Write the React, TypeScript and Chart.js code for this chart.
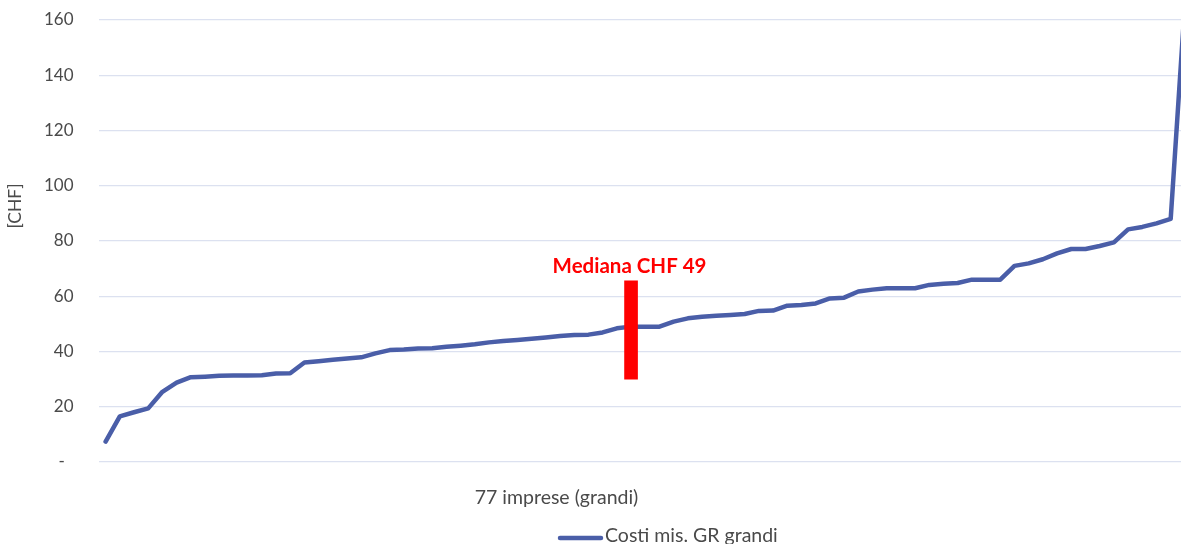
import React, { useEffect, useRef } from 'react';
import { Chart, registerables } from 'chart.js';

Chart.register(...registerables);

// ---- data ----
const categories: string[] = Array.from({ length: 77 }, (_, i) => String(i + 1));
const costs: number[] = [
  7.4, 16.5, 18.0, 19.4, 25.4, 28.7, 30.7, 30.9, 31.2, 31.3,
  31.3, 31.4, 32.0, 32.1, 36.0, 36.5, 37.0, 37.5, 37.9, 39.3,
  40.5, 40.7, 41.1, 41.2, 41.7, 42.1, 42.6, 43.3, 43.8, 44.2,
  44.6, 45.1, 45.6, 46.0, 46.1, 46.9, 48.4, 49.0, 49.0, 49.0,
  50.8, 52.0, 52.6, 52.9, 53.2, 53.6, 54.7, 54.8, 56.6, 56.8,
  57.4, 59.2, 59.5, 61.7, 62.4, 62.9, 62.9, 62.9, 64.1, 64.5,
  64.8, 66.0, 66.0, 66.0, 71.0, 71.9, 73.4, 75.5, 77.1, 77.1,
  78.2, 79.5, 84.2, 85.1, 86.4, 88.0, 166.0,
];
const medianIndex = 37;
const medianRange: [number, number] = [30, 65.6];
const medianLabel = 'Mediana CHF 49';
const yTickValues: number[] = [0, 20, 40, 60, 80, 100, 120, 140, 160];
const seriesName = 'Costi mis. GR grandi';
const xTitle = '77 imprese (grandi)';
const yTitle = '[CHF]';

const FONT = 'Lato';
const TEXT = '#4A4A4A';
const LINE = '#4A5EA8';
const RED = '#FF0000';

export default function App() {
  const ref = useRef<HTMLCanvasElement>(null);

  useEffect(() => {
    const canvas = ref.current;
    if (!canvas) return;
    const medianData = categories.map((_, i) => (i === medianIndex ? medianRange : null));

    const textPlugin = {
      id: 'texts',
      afterDraw(chart: any) {
        const c = chart.ctx as CanvasRenderingContext2D;
        c.save();
        // median label
        const barEl = chart.getDatasetMeta(1).data[medianIndex];
        const topY = chart.scales.y.getPixelForValue(medianRange[1]);
        c.fillStyle = RED;
        c.font = `bold 20.5px ${FONT}`;
        c.textAlign = 'center';
        c.textBaseline = 'alphabetic';
        c.fillText(medianLabel, barEl.x - 1.5, topY - 8);
        // x title
        c.fillStyle = TEXT;
        c.font = `19.5px ${FONT}`;
        c.fillText(xTitle, 556.5, 504);
        // legend
        c.strokeStyle = LINE;
        c.lineWidth = 4.5;
        c.lineCap = 'round';
        c.beginPath();
        c.moveTo(560, 538);
        c.lineTo(601, 538);
        c.stroke();
        c.textAlign = 'left';
        c.fillText(seriesName, 605, 542);
        // y title
        c.translate(15, 206);
        c.rotate(-Math.PI / 2);
        c.textAlign = 'center';
        c.textBaseline = 'middle';
        c.font = `17.5px ${FONT}`;
        c.fillText(yTitle, 0, 0);
        c.restore();
      },
    };

    const chart = new Chart(canvas, {
      type: 'line',
      data: {
        labels: categories,
        datasets: [
          {
            type: 'line',
            label: seriesName,
            data: costs,
            borderColor: LINE,
            backgroundColor: LINE,
            borderWidth: 4.5,
            pointRadius: 0,
            tension: 0,
            borderJoinStyle: 'round',
            borderCapStyle: 'round',
            order: 1,
          },
          {
            type: 'bar',
            label: medianLabel,
            data: medianData as any,
            backgroundColor: RED,
            borderWidth: 0,
            barThickness: 13,
            grouped: false,
            order: 0,
          } as any,
        ],
      },
      options: {
        responsive: false,
        animation: false,
        devicePixelRatio: 1,
        layout: { padding: { top: 20, right: 143, left: 0, bottom: 0 } },
        plugins: {
          legend: { display: false },
          tooltip: { enabled: false },
          title: { display: false },
        },
        scales: {
          x: {
            type: 'category',
            offset: true,
            ticks: { display: false },
            grid: { display: false },
            border: { display: false },
            afterFit: (s: any) => {
              s.height = 98;
            },
          },
          y: {
            min: 0,
            max: 160,
            afterBuildTicks: (s: any) => {
              s.ticks = yTickValues.map((v) => ({ value: v }));
            },
            ticks: {
              padding: 0,
              color: TEXT,
              font: { family: FONT, size: 17 },
              callback: (v: any) => (Number(v) === 0 ? '-  ' : String(v)),
            },
            grid: {
              color: '#DCE1F0',
              drawTicks: true,
              tickLength: 25,
              tickColor: 'rgba(0,0,0,0)',
              lineWidth: 1.2,
            },
            border: { display: false },
            afterFit: (s: any) => {
              s.width = 98.5;
            },
          },
        },
      },
      plugins: [textPlugin],
    });
    return () => chart.destroy();
  }, []);

  return (
    <div
      style={{
        position: 'fixed',
        left: 0,
        top: 0,
        width: 1181,
        height: 544,
        overflow: 'hidden',
        background: '#ffffff',
      }}
    >
      <div style={{ width: 1335, height: 560 }}>
        <canvas ref={ref} width={1335} height={560} style={{ width: 1335, height: 560, display: 'block' }} />
      </div>
    </div>
  );
}
